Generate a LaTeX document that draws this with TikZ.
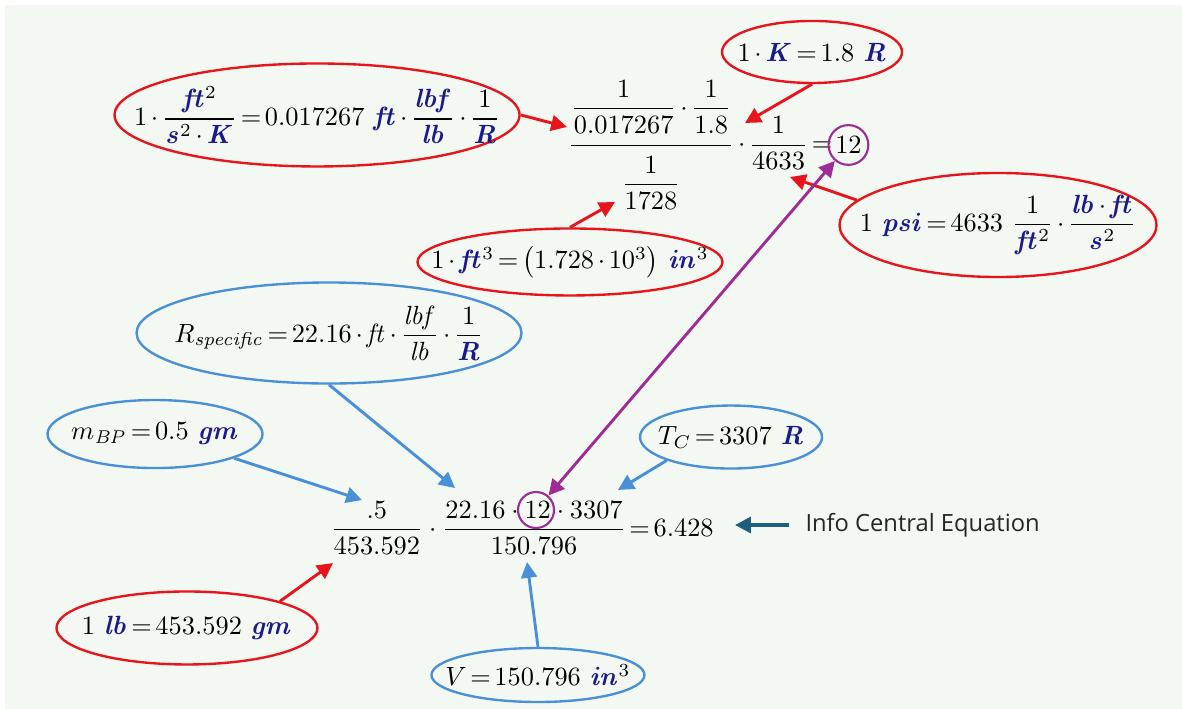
\documentclass[tikz,border=0pt]{standalone}
\usepackage{amsmath, amssymb}
\usepackage[no-math]{fontspec}
\usepackage{tikz}
\usetikzlibrary{shapes.geometric, arrows.meta, positioning}
\usepackage{xcolor}
\newfontfamily\infofont{Open Sans}

\definecolor{bgpaper}{HTML}{F3F8F2}
\definecolor{ringred}{HTML}{E8141C}
\definecolor{ringblue}{HTML}{4A90D9}
\definecolor{ringpurple}{HTML}{9E2B98}
\definecolor{unitblue}{HTML}{1A1A8C}
\definecolor{infoteal}{HTML}{1E5F80}

% spaziatura stretta come nel foglio di calcolo
\medmuskip=2.5mu
\thickmuskip=2.5mu

% unita' di misura in grassetto blu
\newcommand{\un}[1]{\textcolor{unitblue}{\boldsymbol{\mathit{#1}}}}

\tikzset{
  redring/.style={ellipse, draw=ringred, line width=0.9pt, inner xsep=-3cm, inner ysep=-1cm},
  bluering/.style={ellipse, draw=ringblue, line width=0.9pt, inner xsep=-3cm, inner ysep=-1cm},
  purplering/.style={circle, draw=ringpurple, line width=0.8pt, inner sep=0pt},
  redarrow/.style={draw=ringred, line width=1.1pt, -{Triangle[length=6pt,width=6pt]}},
  bluearrow/.style={draw=ringblue, line width=1.1pt, -{Triangle[length=6pt,width=6pt]}},
}

\begin{document}
\begin{tikzpicture}
  \useasboundingbox (0,0) rectangle (15.76,-9.453);
  \fill[white] (0,0) rectangle (15.76,-9.453);
  \fill[bgpaper] (0.067,-0.067) rectangle (15.76,-9.453);

  % equazione in alto
  \node[anchor=west, inner sep=0pt] (topeq) at (7.56,-1.933)
    {$\dfrac{\dfrac{1}{0.017267}\cdot\dfrac{1}{1.8}\rule[-9.9pt]{0pt}{9.9pt}}{\rule{0pt}{16.2pt}\dfrac{1}{1728}}\cdot\dfrac{1}{4633}=$};
  \node[purplering, minimum size=0.53cm, right=-2pt of topeq] (t12) {$12$};

  % equazione centrale
  \node[anchor=west, inner sep=0pt] (boteq) at (4.4,-7.04)
    {\medmuskip=4mu $\dfrac{.5}{453.592}\cdot\dfrac{22.16\cdot12\cdot3307}{150.796}=6.428$};
  \node[purplering, minimum size=0.48cm] (b12) at (7.147,-6.8) {};

  % conversioni (rosso)
  \node[redring, minimum width=5.4cm, minimum height=1.373cm] (ftK) at (4.227,-1.533)
    {$1\cdot\dfrac{\un{ft}^2}{\un{s}^2\cdot\un{K}}=0.017267\ \un{ft}\cdot\dfrac{\un{lbf}}{\un{lb}}\cdot\dfrac{1}{\un{R}}$};
  \node[redring, minimum width=2.4cm, minimum height=0.827cm] (KR) at (10.827,-0.693)
    {$1\cdot\un{K}=1.8\ \un{R}$};
  \node[redring, minimum width=4.227cm, minimum height=1.387cm] (psi) at (13.307,-3.0)
    {$1\ \un{psi}=4633\ \dfrac{1}{\un{ft}^2}\cdot\dfrac{\un{lb}\cdot\un{ft}}{\un{s}^2}$};
  \node[redring, minimum width=4.067cm, minimum height=0.893cm] (ft3) at (7.6,-3.493)
    {$1\cdot\un{ft}^3=\bigl(1.728\cdot10^3\bigr)\ \un{in}^3$};
  \node[redring, minimum width=3.48cm, minimum height=0.973cm] (lbgm) at (2.493,-8.373)
    {$1\ \un{lb}=453.592\ \un{gm}$};

  % dati (blu)
  \node[bluering, minimum width=5.133cm, minimum height=1.347cm] (Rsp) at (4.387,-4.44)
    {$R_{\mathit{specific}}=22.16\cdot\mathit{ft}\cdot\dfrac{\mathit{lbf}}{\mathit{lb}}\cdot\dfrac{1}{\un{R}}$};
  \node[bluering, minimum width=2.867cm, minimum height=0.907cm] (mBP) at (2.067,-5.787)
    {$m_{\mathit{BP}}=0.5\ \un{gm}$};
  \node[bluering, minimum width=2.427cm, minimum height=0.84cm] (TC) at (9.747,-5.827)
    {$T_C=3307\ \un{R}$};
  \node[bluering, minimum width=2.84cm, minimum height=0.72cm] (vol) at (7.173,-9.0)
    {$V=150.796\ \un{in}^3$};

  % punte delle frecce
  \coordinate (ftKtip) at (7.56,-1.693);
  \coordinate (KRtip) at (9.933,-1.64);
  \coordinate (psitip) at (10.533,-2.36);
  \coordinate (ft3tip) at (8.2,-2.693);
  \coordinate (lbtip) at (4.44,-7.507);
  \coordinate (Rsptip) at (6.067,-6.507);
  \coordinate (mBPtip) at (4.827,-6.667);
  \coordinate (TCtip) at (8.24,-6.533);
  \coordinate (voltip) at (7.027,-7.493);
  \coordinate (infotip) at (9.8,-7.0);

  \draw[redarrow] (ftK.east) -- (ftKtip);
  \draw[redarrow] (KR.south) -- (KRtip);
  \draw[redarrow] (psi.170) -- (psitip);
  \draw[redarrow] (ft3.north) -- (ft3tip);
  \draw[redarrow] (lbgm.16) -- (lbtip);

  \draw[bluearrow] (Rsp.south) -- (Rsptip);
  \draw[bluearrow] (mBP.-17) -- (mBPtip);
  \draw[bluearrow] (TC.200) -- (TCtip);
  \draw[bluearrow] (vol.north) -- (voltip);

  \draw[ringpurple, line width=1.1pt, {Triangle[length=6pt,width=6pt]}-{Triangle[length=6pt,width=6pt]}] (b12) -- (t12);

  % etichetta
  \node[anchor=west, inner sep=0pt, text=black!85, font=\infofont\fontsize{9}{11}\selectfont] (info) at (10.733,-7.0) {Info Central Equation};
  \draw[infoteal, line width=1.4pt, -{Triangle[length=6pt,width=6pt]}, shorten <=6pt] (info) -- (infotip);
\end{tikzpicture}
\end{document}
